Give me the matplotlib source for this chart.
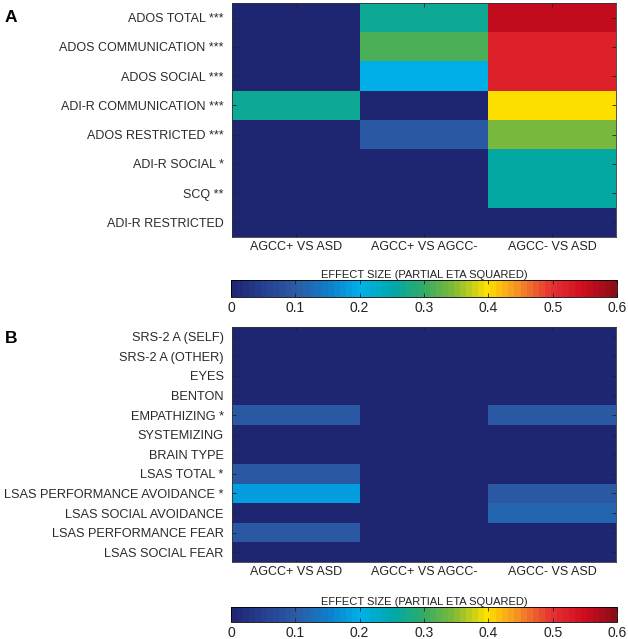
import numpy as np
import matplotlib
matplotlib.use("Agg")
import matplotlib.pyplot as plt
from matplotlib.colors import LinearSegmentedColormap, ListedColormap

plt.rcParams['font.family'] = ['Liberation Sans', 'DejaVu Sans']

columns = ["AGCC+ VS ASD", "AGCC+ VS AGCC-", "AGCC- VS ASD"]

rows_a = ["ADOS TOTAL ***", "ADOS COMMUNICATION ***", "ADOS SOCIAL ***",
          "ADI-R COMMUNICATION ***", "ADOS RESTRICTED ***", "ADI-R SOCIAL *",
          "SCQ **", "ADI-R RESTRICTED"]
values_a = [
    [0.00, 0.27, 0.56],
    [0.00, 0.31, 0.52],
    [0.00, 0.20, 0.52],
    [0.27, 0.00, 0.40],
    [0.00, 0.10, 0.34],
    [0.00, 0.00, 0.26],
    [0.00, 0.00, 0.26],
    [0.00, 0.00, 0.00],
]

rows_b = ["SRS-2 A (SELF)", "SRS-2 A (OTHER)", "EYES", "BENTON", "EMPATHIZING *",
          "SYSTEMIZING", "BRAIN TYPE", "LSAS TOTAL *", "LSAS PERFORMANCE AVOIDANCE *",
          "LSAS SOCIAL AVOIDANCE", "LSAS PERFORMANCE FEAR", "LSAS SOCIAL FEAR"]
values_b = [
    [0.00, 0.00, 0.00],
    [0.00, 0.00, 0.00],
    [0.00, 0.00, 0.00],
    [0.00, 0.00, 0.00],
    [0.10, 0.00, 0.10],
    [0.00, 0.00, 0.00],
    [0.00, 0.00, 0.00],
    [0.10, 0.00, 0.00],
    [0.18, 0.00, 0.10],
    [0.00, 0.00, 0.12],
    [0.10, 0.00, 0.00],
    [0.00, 0.00, 0.00],
]

cbar_ticks = [0, 0.1, 0.2, 0.3, 0.4, 0.5, 0.6]
cbar_label = "EFFECT SIZE (PARTIAL ETA SQUARED)"

anchors = [
    (0.00, (0.12, 0.15, 0.45)),
    (0.08, (0.15, 0.25, 0.57)),
    (0.167, (0.17, 0.36, 0.65)),
    (0.25, (0.05, 0.50, 0.80)),
    (0.333, (0.00, 0.69, 0.91)),
    (0.42, (0.00, 0.66, 0.66)),
    (0.50, (0.20, 0.67, 0.40)),
    (0.58, (0.50, 0.73, 0.22)),
    (0.667, (1.00, 0.88, 0.00)),
    (0.75, (0.96, 0.55, 0.15)),
    (0.833, (0.90, 0.20, 0.20)),
    (0.92, (0.82, 0.05, 0.12)),
    (1.00, (0.55, 0.05, 0.10)),
]
base = LinearSegmentedColormap.from_list("pjet", anchors)
cmap = ListedColormap(base(np.linspace(0, 1, 64)))

W, H = 628, 639
fig = plt.figure(figsize=(W / 100, H / 100), dpi=100)

def ax_rect(x0, y0, x1, y1):
    return [x0 / W, 1 - y1 / H, (x1 - x0) / W, (y1 - y0) / H]

def heat(rect, rows, vals, fs):
    ax = fig.add_axes(rect)
    data = np.array(vals)
    im = ax.imshow(data, cmap=cmap, vmin=0, vmax=0.6, aspect='auto',
                   interpolation='nearest')
    ax.set_yticks(range(len(rows)))
    ax.set_yticklabels(rows, fontsize=fs, color='#2a2a2a')
    ax.set_xticks(range(len(columns)))
    ax.set_xticklabels(columns, fontsize=9, color='#222222')
    ax.tick_params(direction='in', length=3, width=0.6, top=True, right=True,
                   color='#222222')
    ax.tick_params(axis='y', pad=6)
    ax.tick_params(axis='x', pad=3)
    for s in ax.spines.values():
        s.set_linewidth(0.6)
        s.set_color('#333333')
    return ax, im

def cbar(rect, im):
    cax = fig.add_axes(rect)
    cb = fig.colorbar(im, cax=cax, orientation='horizontal', ticks=cbar_ticks)
    cb.ax.set_xticklabels([str(t) if t != 0 else '0' for t in cbar_ticks],
                          fontsize=10, color='#222222')
    cb.ax.tick_params(direction='in', length=3, width=0.6, top=True,
                      color='#222222', pad=3)
    cb.outline.set_linewidth(0.6)
    cb.ax.set_title(cbar_label, fontsize=8, pad=1.5, color='#222222')
    return cb

axA, imA = heat(ax_rect(232, 3, 616, 237), rows_a, values_a, 9.0)
cbar(ax_rect(231, 280, 617, 297), imA)
axB, imB = heat(ax_rect(232, 327, 616, 562), rows_b, values_b, 9.2)
cbar(ax_rect(231, 607, 617, 622), imB)

fig.text(5 / W, 1 - 22 / H, "A", fontsize=12.5, fontweight='bold')
fig.text(5 / W, 1 - 343 / H, "B", fontsize=12.5, fontweight='bold')

fig.savefig("out.png", dpi=100)
